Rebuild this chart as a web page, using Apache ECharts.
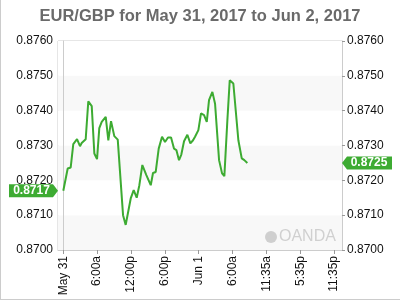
<!DOCTYPE html>
<html>
<head>
<meta charset="utf-8">
<script src="https://cdn.jsdelivr.net/npm/echarts@6/dist/echarts.min.js"></script>
<style>html,body{margin:0;padding:0;background:#fff}#c{width:400px;height:300px}</style>
</head>
<body>
<div id="c"></div>
<script>
// hours since May 31 00:00
const hours = [0,0.78,1.31,1.77,2.43,2.96,3.26,3.97,4.43,5.04,5.50,5.98,6.38,6.81,7.52,7.98,8.46,9.04,9.65,10.59,11.06,11.35,11.95,12.48,13.01,13.48,14.01,14.72,15.50,15.90,16.38,16.91,17.50,18.03,18.56,19.10,19.63,20.04,20.51,20.92,21.40,21.99,22.52,23.00,23.35,23.94,24.41,24.95,25.43,25.83,26.42,26.90,27.61,28.14,28.55,29.08,29.50,30.14,31.03,31.63,32.09,32.62];
const rates = [0.8717,0.87234,0.87237,0.87304,0.87318,0.87298,0.87307,0.87318,0.87427,0.87413,0.87277,0.87261,0.87350,0.87368,0.87382,0.87315,0.87370,0.87327,0.87317,0.87100,0.87072,0.87077,0.87148,0.87172,0.87150,0.87186,0.87244,0.87215,0.87186,0.87221,0.87224,0.87291,0.87325,0.87310,0.87323,0.87323,0.87291,0.87287,0.87258,0.87274,0.87312,0.87331,0.87306,0.87315,0.87325,0.87344,0.87392,0.87387,0.87368,0.87430,0.87454,0.87420,0.87258,0.87220,0.87212,0.87372,0.87487,0.87478,0.87315,0.87263,0.87258,0.8725];
const tickHours = [0,6,12,18,24,30,36,42,48];
const tickLabels = ['May 31','6:00a','12:00p','6:00p','Jun 1','6:00a','11:35a','5:35p','11:35p'];

const X_MIN = -0.94, X_MAX = 49.4;
const green = '#3dab32';
const chart = echarts.init(document.getElementById('c'), null, {renderer:'canvas'});
const data = hours.map((h,i)=>[h, rates[i]]);
const first = rates[0], last = rates[rates.length-1];
const fontFam = '"Liberation Sans", Arial, sans-serif';

chart.setOption({
  animation:false,
  title:{text:'EUR/GBP for May 31, 2017 to Jun 2, 2017', left:'center', top:3,
    textStyle:{fontFamily:fontFam, fontSize:16.5, fontWeight:'bold', color:'#6a6a6a'}},
  grid:{left:58, right:58, top:41, bottom:50, show:true, borderColor:'#cccccc', borderWidth:1, backgroundColor:'transparent'},
  xAxis:{type:'value', min:X_MIN, max:X_MAX,
    axisLine:{show:true, lineStyle:{color:'#cccccc'}},
    axisTick:{show:true, customValues:tickHours, length:4, lineStyle:{color:'#999'}},
    axisLabel:{customValues:tickHours, rotate:90, margin:6, fontFamily:fontFam, fontSize:12, color:'#111',
      formatter:(v)=>{const i=tickHours.indexOf(v); return i>=0?tickLabels[i]:'';}},
    splitLine:{show:false}},
  yAxis:[
    {type:'value', min:0.870, max:0.876, interval:0.001, position:'left',
      axisLine:{show:true, lineStyle:{color:'#cccccc'}},
      axisTick:{show:false},
      axisLabel:{fontFamily:fontFam, fontSize:12, color:'#111', margin:5, formatter:v=>v.toFixed(4)},
      splitLine:{show:false},
      splitArea:{show:true, areaStyle:{color:['#f8f8f8','#ffffff']}}},
    {type:'value', min:0.870, max:0.876, interval:0.001, position:'right',
      axisLine:{show:true, lineStyle:{color:'#cccccc'}},
      axisTick:{show:true, length:3, lineStyle:{color:'#999'}},
      axisLabel:{fontFamily:fontFam, fontSize:12, color:'#111', margin:5, formatter:v=>v.toFixed(4)},
      splitLine:{show:false}}
  ],
  series:[{
    type:'line', data:data, showSymbol:false, symbol:'none', clip:false,
    lineStyle:{color:green, width:2}, itemStyle:{color:green},
    markPoint:{
      silent:true,
      data:[
        {coord:[X_MIN, first], value:first, symbol:'path://M0,0 L44,0 L49,6.5 L44,13 L0,13 Z', symbolSize:[49,13], symbolKeepAspect:false, symbolOffset:['-50%',0],
          itemStyle:{color:green},
          label:{show:true, position:'inside', offset:[-2,0], formatter:()=>first.toFixed(4), color:'#fff', fontWeight:'bold', fontSize:12, fontFamily:fontFam}},
        {coord:[X_MAX, last], value:last, symbol:'path://M0,6.5 L5,0 L50,0 L50,13 L5,13 Z', symbolSize:[50,13], symbolKeepAspect:false, symbolOffset:['50%',0],
          itemStyle:{color:green},
          label:{show:true, position:'inside', offset:[2,0], formatter:()=>last.toFixed(4), color:'#fff', fontWeight:'bold', fontSize:12, fontFamily:fontFam}}
      ]
    }
  }],
  graphic:[
    {type:'line', z:100, shape:{x1:0.5,y1:0,x2:0.5,y2:300}, style:{stroke:'#cccccc', lineWidth:1}},
    {type:'line', z:100, shape:{x1:0,y1:299.5,x2:400,y2:299.5}, style:{stroke:'#cccccc', lineWidth:1}},
    {type:'circle', z:100, shape:{cx:271, cy:237, r:6}, style:{fill:'#cfcfcf'}},
    {type:'text', z:100, x:279, y:229, style:{text:'OANDA', fill:'#d0d0d0', fontSize:16, fontFamily:fontFam}}
  ]
});
</script>
</body>
</html>
